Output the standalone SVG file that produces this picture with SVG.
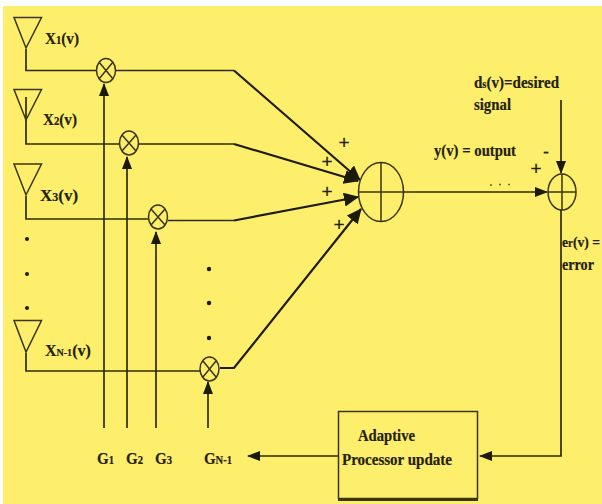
<svg xmlns="http://www.w3.org/2000/svg" width="602" height="504" viewBox="0 0 602 504">
<defs>
<marker id="a" markerUnits="userSpaceOnUse" markerWidth="14" markerHeight="14" refX="12" refY="6" orient="auto"><path d="M0 1L13 6L0 11z" fill="#1c1a08"/></marker>
<marker id="c" markerUnits="userSpaceOnUse" markerWidth="16" markerHeight="16" refX="14" refY="7" orient="auto"><path d="M0 0L15 7L0 14z" fill="#1c1a08"/></marker>
</defs>
<style>
.w{fill:none;stroke:#2e2b0c;stroke-width:1.7}
.b{stroke-width:2.200;stroke:#1e1c08}
.n{fill:none;stroke:#3a3610;stroke-width:1.500}
text{font-family:"Liberation Serif",serif;font-weight:bold;fill:#23210c;font-size:17px;stroke:#23210c;stroke-width:.2}
.s{font-size:12px}
.p{font-family:"Liberation Sans",sans-serif;font-weight:normal;font-size:19px;text-anchor:middle}
.d{fill:#1c1a08}
</style>
<rect width="602" height="504" fill="#fff"/>
<rect x="3" y="6" width="599" height="498" fill="#fdee6c"/>
<g id="connectors">
<path class="w" d="M26 49V70.500H96M116 70.500H234"/>
<path class="w b" d="M234 70.500L360 180" marker-end="url(#c)"/>
<path class="w" d="M26 97V144H120M139 144H234"/>
<path class="w b" d="M234 144L358 181" marker-end="url(#c)"/>
<path class="w" d="M26 196V219H148M168 220.500H234"/>
<path class="w b" d="M234 220.500L358 197" marker-end="url(#c)"/>
<path class="w b" d="M220 368H234L361 209" marker-end="url(#c)"/>
<path class="w" d="M26 353V371H200"/>
<path class="w" d="M104 428V84" marker-end="url(#a)"/>
<path class="w" d="M127 428V157" marker-end="url(#a)"/>
<path class="w" d="M156 428V232" marker-end="url(#a)"/>
<path class="w" d="M208 428V382" marker-end="url(#a)"/>
<path class="w" d="M404 192H547" marker-end="url(#a)"/>
<path class="w" d="M561 100V173" marker-end="url(#a)"/>
<path class="w" d="M561 210V456H480" marker-end="url(#a)"/>
<path class="w" d="M338 456H248" marker-end="url(#a)"/>
</g>
<g id="antenna-1"><path class="n" d="M14 17.500H41.500L26 48Z"/><text x="45" y="44" textLength="34" lengthAdjust="spacingAndGlyphs">X<tspan class="s">1</tspan>(v)</text></g>
<g id="antenna-2"><path class="n" d="M14 89.500H41.500L26 120Z"/><text x="43" y="125" textLength="34" lengthAdjust="spacingAndGlyphs">X<tspan class="s">2</tspan>(v)</text></g>
<g id="antenna-3"><path class="n" d="M14 164H41.500L26 195Z"/><text x="40" y="201">X<tspan class="s">3</tspan>(v)</text></g>
<g id="antenna-n"><path class="n" d="M14 320.500H41.500L26 352Z"/><text x="45" y="356" style="font-size:16px">X<tspan class="s" style="font-size:10px">N-1</tspan>(v)</text></g>
<g id="dots-left"><circle class="d" cx="27" cy="239" r="2"/><circle class="d" cx="27" cy="274" r="2"/><circle class="d" cx="27" cy="308" r="2"/></g>
<g id="dots-right"><circle class="d" cx="209" cy="269" r="2.200"/><circle class="d" cx="209" cy="303" r="2.200"/><circle class="d" cx="209" cy="338" r="2.200"/></g>
<g id="mult-1"><ellipse class="n" cx="106" cy="70.500" rx="9.500" ry="12"/><path class="n" d="M99 62L113 79M113 62L99 79"/></g>
<g id="mult-2"><ellipse class="n" cx="129" cy="143" rx="9.500" ry="12"/><path class="n" d="M122 135L136 151M136 135L122 151"/></g>
<g id="mult-3"><ellipse class="n" cx="158" cy="217" rx="9.500" ry="12"/><path class="n" d="M151 209L165 225M165 209L151 225"/></g>
<g id="mult-n"><ellipse class="n" cx="209.500" cy="369" rx="9.500" ry="12"/><path class="n" d="M203 361L216 377M216 361L203 377"/></g>
<g id="summer"><ellipse class="n" cx="381" cy="192" rx="22.500" ry="29.500"/><path class="n" d="M381 162V221M359 192H404"/></g>
<g id="error-summer"><ellipse class="n" cx="562" cy="192" rx="14" ry="18"/><path class="n" d="M562 174V210M548 192H576"/></g>
<g id="plus-signs">
<text class="p" x="344" y="149">+</text><text class="p" x="327" y="168">+</text><text class="p" x="327" y="198">+</text><text class="p" x="339" y="231">+</text><text class="p" x="536" y="175">+</text>
<text class="p" x="546" y="158" style="font-size:18px">-</text>
</g>
<g id="labels">
<text x="474" y="88" textLength="85" lengthAdjust="spacingAndGlyphs">d<tspan class="s">s</tspan>(v)=desired</text>
<text x="474" y="110" textLength="37" lengthAdjust="spacingAndGlyphs">signal</text>
<text x="434" y="156" textLength="82" lengthAdjust="spacingAndGlyphs">y(v) = output</text>
<text x="562" y="247" textLength="38" lengthAdjust="spacingAndGlyphs" style="font-size:15px">e<tspan class="s">r</tspan>(v) =</text>
<text x="562" y="270" textLength="32" lengthAdjust="spacingAndGlyphs">error</text>
<path d="M490 185h2M499 184.500h2M508 184.500h2" stroke="#6a6430" stroke-width="1.500"/>
<text x="97" y="464" textLength="17" lengthAdjust="spacingAndGlyphs">G<tspan class="s">1</tspan></text>
<text x="126" y="464" textLength="17" lengthAdjust="spacingAndGlyphs">G<tspan class="s">2</tspan></text>
<text x="155" y="464" textLength="17" lengthAdjust="spacingAndGlyphs">G<tspan class="s">3</tspan></text>
<text x="204" y="464" textLength="28" lengthAdjust="spacingAndGlyphs">G<tspan class="s">N-1</tspan></text>
</g>
<g id="processor">
<rect x="338.500" y="411.500" width="139" height="87" fill="#fdee6c" stroke="#3a3610" stroke-width="1.500"/>
<path d="M338 499.500H478" stroke="#3a3610" stroke-width="3"/>
<text x="358" y="441" textLength="57" lengthAdjust="spacingAndGlyphs">Adaptive</text>
<text x="342" y="465" textLength="110" lengthAdjust="spacingAndGlyphs">Processor update</text>
</g>
</svg>
